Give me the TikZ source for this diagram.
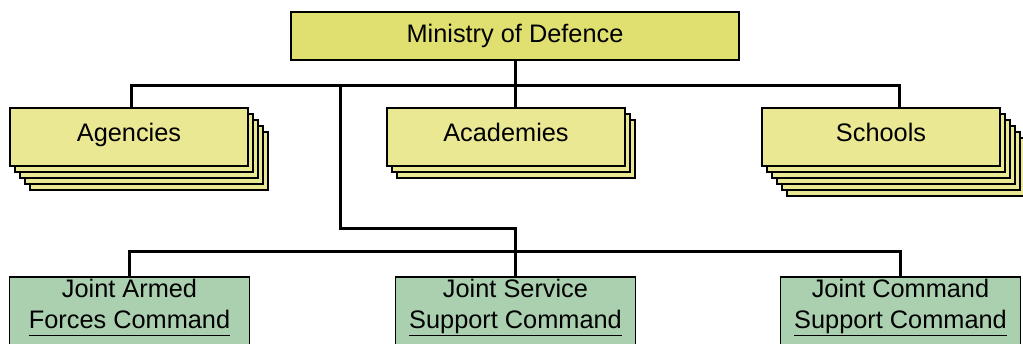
\documentclass[tikz,border=0pt]{standalone}
\usepackage{fontspec}
\setmainfont{Liberation Sans}
\usetikzlibrary{positioning,calc}
\definecolor{modyellow}{RGB}{224,224,112}
\definecolor{cardyellow}{RGB}{234,232,146}
\definecolor{cmdgreen}{RGB}{170,208,176}
\newcommand{\cmdlink}[1]{\underline{#1\vphantom{p}}}

\begin{document}
\begin{tikzpicture}[x=0.75pt, y=-0.75pt,
  ministry/.style={draw, line width=1.2pt, fill=modyellow, minimum width=336pt, minimum height=36pt, inner sep=0pt, font=\fontsize{19}{23}\selectfont},
  card/.style={draw, line width=1.2pt, fill=cardyellow, minimum width=178.5pt, minimum height=43.5pt, inner sep=0pt, text height=0.82em, text depth=0.21em, font=\fontsize{19}{23}\selectfont},
  command/.style={draw, line width=1.2pt, fill=cmdgreen, minimum width=180pt, anchor=north, align=center, inner xsep=0pt, inner ysep=1.5pt, text depth=40pt, font=\fontsize{19}{23.25}\selectfont},
  link/.style={line width=2.25pt}
]
\useasboundingbox (0,0) rectangle (1023,343);
\clip (0,0) rectangle (1023,343);

% Ministry
\node[ministry] (mod) at (515,36) {Ministry of Defence};

% Stacked cards
\foreach \i in {4,3,2,1}
  \node[card] (agen-\i) at (129+5*\i,137+6*\i) {};
\node[card] (agen) at (129,137) {Agencies};

\foreach \i in {2,1}
  \node[card] (acad-\i) at (506+5*\i,137+6*\i) {};
\node[card] (acad) at (506,137) {Academies};

\foreach \i in {5,4,3,2,1}
  \node[card] (schl-\i) at (881+5*\i,137+6*\i) {};
\node[card] (schl) at (881,137) {Schools};

% Commands
\node[command] (jafc) at (129.5,276) {Joint Armed\\\cmdlink{Forces Command}};
\node[command] (jssc) at (515.5,276) {Joint Service\\\cmdlink{Support Command}};
\node[command] (jcsc) at (900.5,276) {Joint Command\\\cmdlink{Support Command}};

% Links
\coordinate (bus1) at (515,85);
\coordinate (tap) at (340,85);
\coordinate (bend) at (340,228);
\coordinate (bus2) at (515,251);
\draw[link] (mod.south) -- (bus1);
\draw[link] ([xshift=1.5pt]agen.north) |- (bus1) -| ([xshift=13.5pt]schl.north);
\draw[link] (bus1) -- (bus1 |- acad.north);
\draw[link] (tap) -- (bend) -| (jssc.north);
\draw[link] (jafc.north) |- (bus2) -| (jcsc.north);

\end{tikzpicture}
\end{document}
